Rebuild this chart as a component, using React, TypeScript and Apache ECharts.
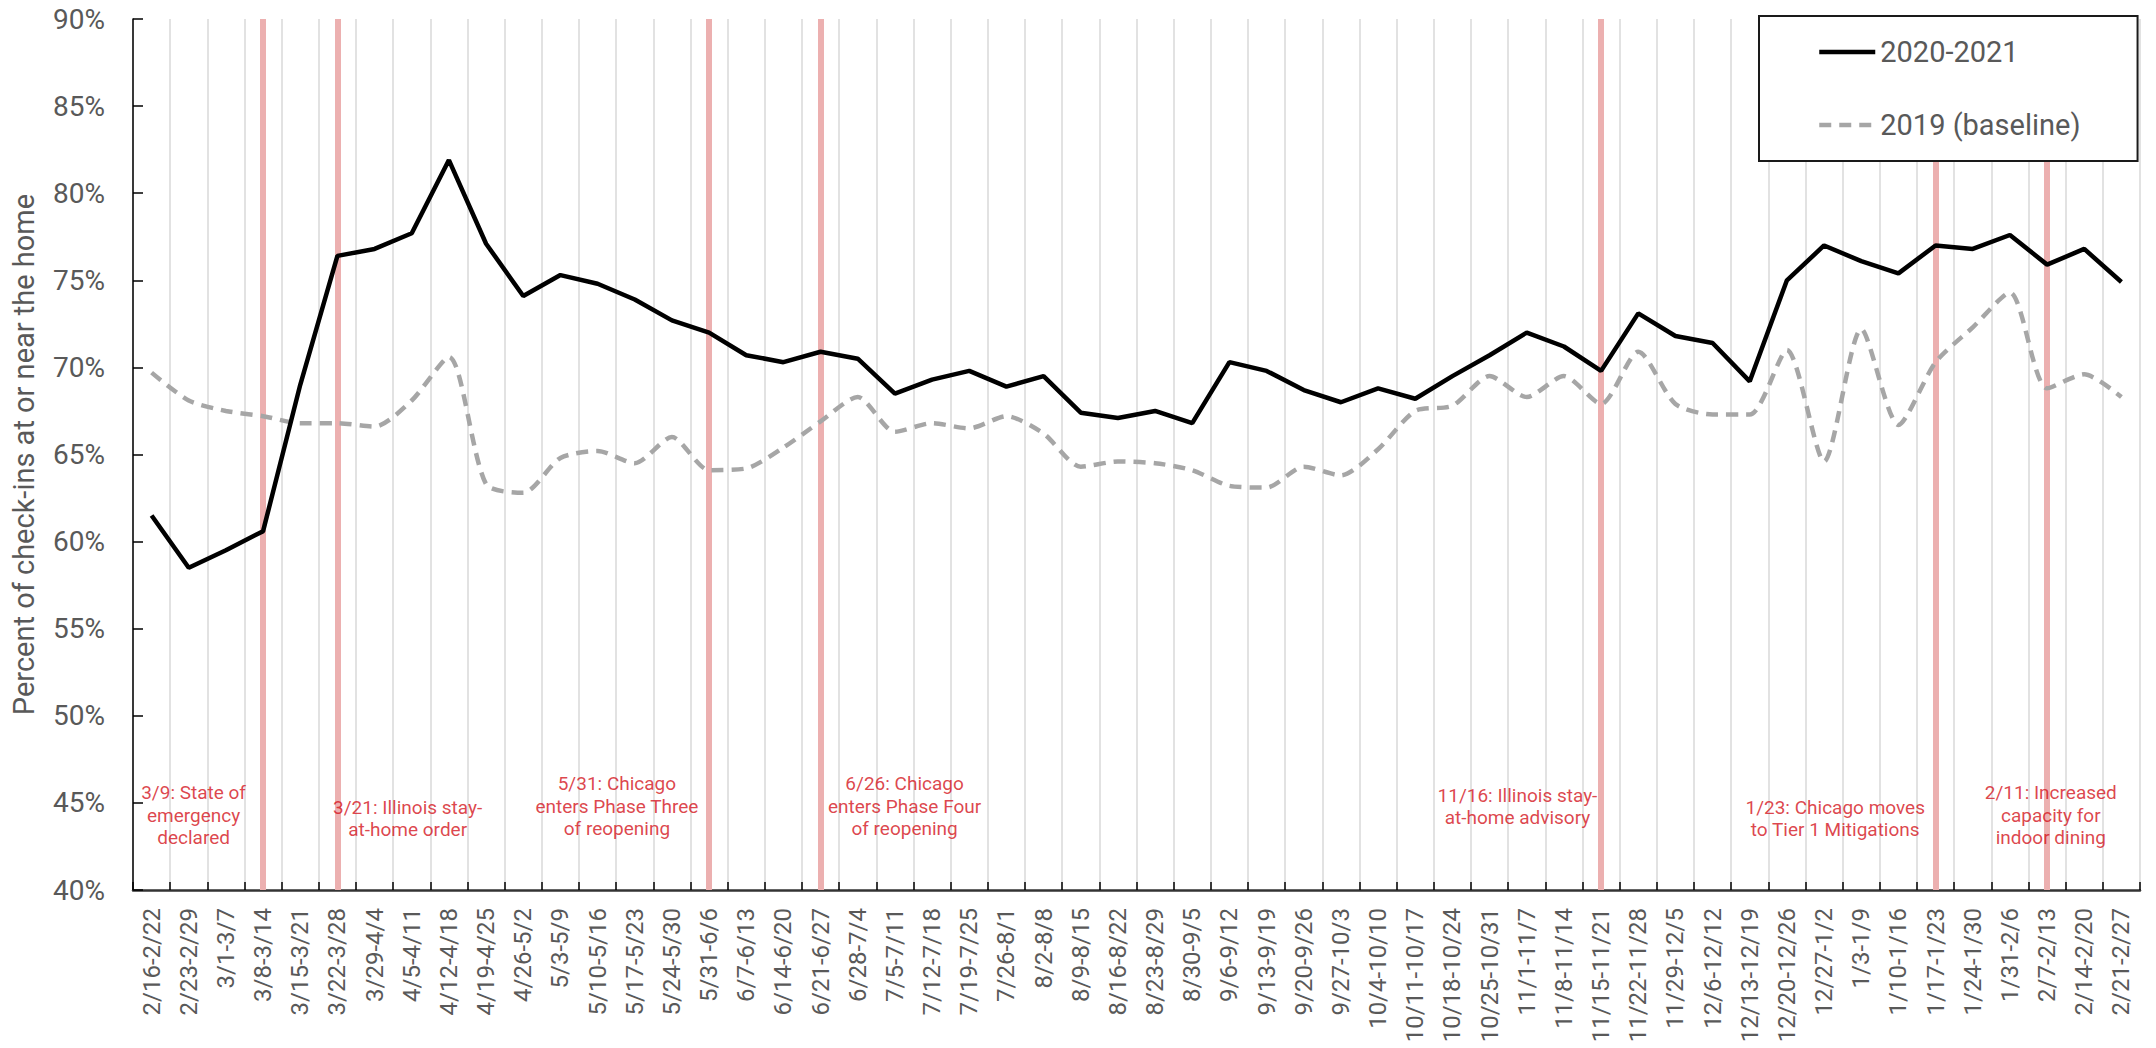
import React, { useEffect, useRef } from 'react';
import * as echarts from 'echarts';

const categories = [
  '2/16-2/22', '2/23-2/29', '3/1-3/7', '3/8-3/14', '3/15-3/21', '3/22-3/28', '3/29-4/4', '4/5-4/11',
  '4/12-4/18', '4/19-4/25', '4/26-5/2', '5/3-5/9', '5/10-5/16', '5/17-5/23', '5/24-5/30', '5/31-6/6',
  '6/7-6/13', '6/14-6/20', '6/21-6/27', '6/28-7/4', '7/5-7/11', '7/12-7/18', '7/19-7/25', '7/26-8/1',
  '8/2-8/8', '8/9-8/15', '8/16-8/22', '8/23-8/29', '8/30-9/5', '9/6-9/12', '9/13-9/19', '9/20-9/26',
  '9/27-10/3', '10/4-10/10', '10/11-10/17', '10/18-10/24', '10/25-10/31', '11/1-11/7', '11/8-11/14',
  '11/15-11/21', '11/22-11/28', '11/29-12/5', '12/6-12/12', '12/13-12/19', '12/20-12/26', '12/27-1/2',
  '1/3-1/9', '1/10-1/16', '1/17-1/23', '1/24-1/30', '1/31-2/6', '2/7-2/13', '2/14-2/20', '2/21-2/27',
];

const series2020 = [
  61.5, 58.5, 59.5, 60.6, 69.0, 76.4, 76.8, 77.7, 81.9, 77.1, 74.1, 75.3, 74.8, 73.9, 72.7, 72.0,
  70.7, 70.3, 70.9, 70.5, 68.5, 69.3, 69.8, 68.9, 69.5, 67.4, 67.1, 67.5, 66.8, 70.3, 69.8, 68.7,
  68.0, 68.8, 68.2, 69.5, 70.7, 72.0, 71.2, 69.8, 73.1, 71.8, 71.4, 69.2, 75.0, 77.0, 76.1, 75.4,
  77.0, 76.8, 77.6, 75.9, 76.8, 74.9,
];

const series2019 = [
  69.7, 68.1, 67.5, 67.2, 66.8, 66.8, 66.6, 68.1, 70.6, 63.3, 62.8, 64.8, 65.2, 64.5, 66.0, 64.1,
  64.2, 65.4, 66.9, 68.3, 66.3, 66.8, 66.5, 67.2, 66.2, 64.3, 64.6, 64.5, 64.1, 63.2, 63.1, 64.3,
  63.8, 65.3, 67.5, 67.8, 69.5, 68.3, 69.5, 67.9, 70.9, 67.9, 67.3, 67.3, 71.0, 64.6, 72.2, 66.7,
  70.3, 72.3, 74.3, 68.8, 69.6, 68.3,
];

const seriesNames = ['2020-2021', '2019 (baseline)'];

// weeks in which the policy events are marked
const eventWeeks = ['3/8-3/14', '3/22-3/28', '5/31-6/6', '6/21-6/27', '11/15-11/21', '1/17-1/23', '2/7-2/13'];

const eventTexts = [
  '3/9: State of\nemergency\ndeclared',
  '3/21: Illinois stay-\nat-home order',
  '5/31: Chicago\nenters Phase Three\nof reopening',
  '6/26: Chicago\nenters Phase Four\nof reopening',
  '11/16: Illinois stay-\nat-home advisory',
  '1/23: Chicago moves\nto Tier 1 Mitigations',
  '2/11: Increased\ncapacity for\nindoor dining',
];

// anchor of each event text: [week position (0..54), percent]
const eventTextWeek = [1.63, 7.39, 13.02, 20.76, 37.25, 45.8, 51.6];
const eventTextPct = [44.3, 44.1, 44.8, 44.8, 44.8, 44.1, 44.3];

const yMin = 40;
const yMax = 90;
const yStep = 5;
const yAxisTitle = 'Percent of check-ins at or near the home';

export default function App() {
  const ref = useRef<HTMLDivElement>(null);

  useEffect(() => {
    if (!ref.current) return;
    const chart = echarts.init(ref.current, null, { renderer: 'svg' });
    const font = 'Roboto';
    chart.setOption({
      animation: false,
      backgroundColor: '#ffffff',
      textStyle: { fontFamily: font },
      grid: { left: 133, right: 16, top: 19, bottom: 158, containLabel: false },
      legend: {
        orient: 'vertical',
        left: 1759,
        top: 16,
        padding: [21, 57, 21, 58],
        itemGap: 43,
        itemWidth: 56,
        itemHeight: 30,
        backgroundColor: '#ffffff',
        borderColor: '#1a1a1a',
        borderWidth: 2,
        borderRadius: 0,
        selectedMode: false,
        itemStyle: { opacity: 0 },
        lineStyle: { width: 4.5 },
        textStyle: { fontSize: 29, color: '#595959', fontFamily: font, lineHeight: 30 },
        data: seriesNames,
      },
      xAxis: [
        {
          type: 'category',
          data: categories,
          boundaryGap: true,
          axisLine: { show: true, lineStyle: { color: '#333333', width: 2.5 } },
          axisTick: { show: true, inside: true, length: 8, interval: 0, lineStyle: { color: '#000000', width: 1.5 } },
          axisLabel: {
            rotate: 90,
            interval: 0,
            margin: 18,
            fontSize: 24,
            color: '#595959',
            fontFamily: font,
          },
          splitLine: { show: true, interval: 0, lineStyle: { color: '#d9d9d9', width: 1.5 } },
        },
        { type: 'value', min: 0, max: categories.length, show: false },
      ],
      yAxis: {
        type: 'value',
        min: yMin,
        max: yMax,
        interval: yStep,
        name: yAxisTitle,
        nameLocation: 'middle',
        nameGap: 95,
        nameTextStyle: { fontSize: 29, color: '#595959', fontFamily: font },
        axisLine: { show: true, lineStyle: { color: '#000000', width: 1.5 } },
        axisTick: { show: true, inside: true, length: 10, lineStyle: { color: '#000000', width: 1.5 } },
        axisLabel: { formatter: '{value}%', fontSize: 28, color: '#595959', margin: 28, fontFamily: font },
        splitLine: { show: false },
      },
      series: [
        {
          name: seriesNames[1],
          type: 'line',
          data: series2019,
          symbol: 'none',
          smooth: 0.25,
          z: 2,
          lineStyle: { color: '#a6a6a6', width: 4.5, type: [12, 8] },
          itemStyle: { color: '#a6a6a6' },
          markLine: {
            silent: true,
            z: 1,
            symbol: 'none',
            label: { show: false },
            lineStyle: { color: '#ecb0b0', width: 6, type: 'solid' },
            emphasis: { disabled: true },
            data: eventWeeks.map((w) => ({ xAxis: w })),
          },
        },
        {
          name: seriesNames[0],
          type: 'line',
          data: series2020,
          symbol: 'none',
          z: 3,
          lineStyle: { color: '#000000', width: 4.5 },
          itemStyle: { color: '#000000' },
        },
        {
          type: 'scatter',
          xAxisIndex: 1,
          yAxisIndex: 0,
          symbol: 'circle',
          symbolSize: 1,
          silent: true,
          z: 4,
          itemStyle: { color: 'rgba(0,0,0,0)' },
          label: {
            show: true,
            position: 'inside',
            color: '#d41420',
            fontSize: 19,
            lineHeight: 22.5,
            align: 'center',
            verticalAlign: 'middle',
            fontFamily: font,
          },
          data: eventTexts.map((t, i) => ({
            value: [eventTextWeek[i], eventTextPct[i]],
            label: { formatter: t },
          })),
        },
      ],
    });
    return () => chart.dispose();
  }, []);

  return (
    <div
      ref={ref}
      style={{ position: 'fixed', left: 0, top: 0, width: 2156, height: 1048, background: '#ffffff' }}
    />
  );
}
